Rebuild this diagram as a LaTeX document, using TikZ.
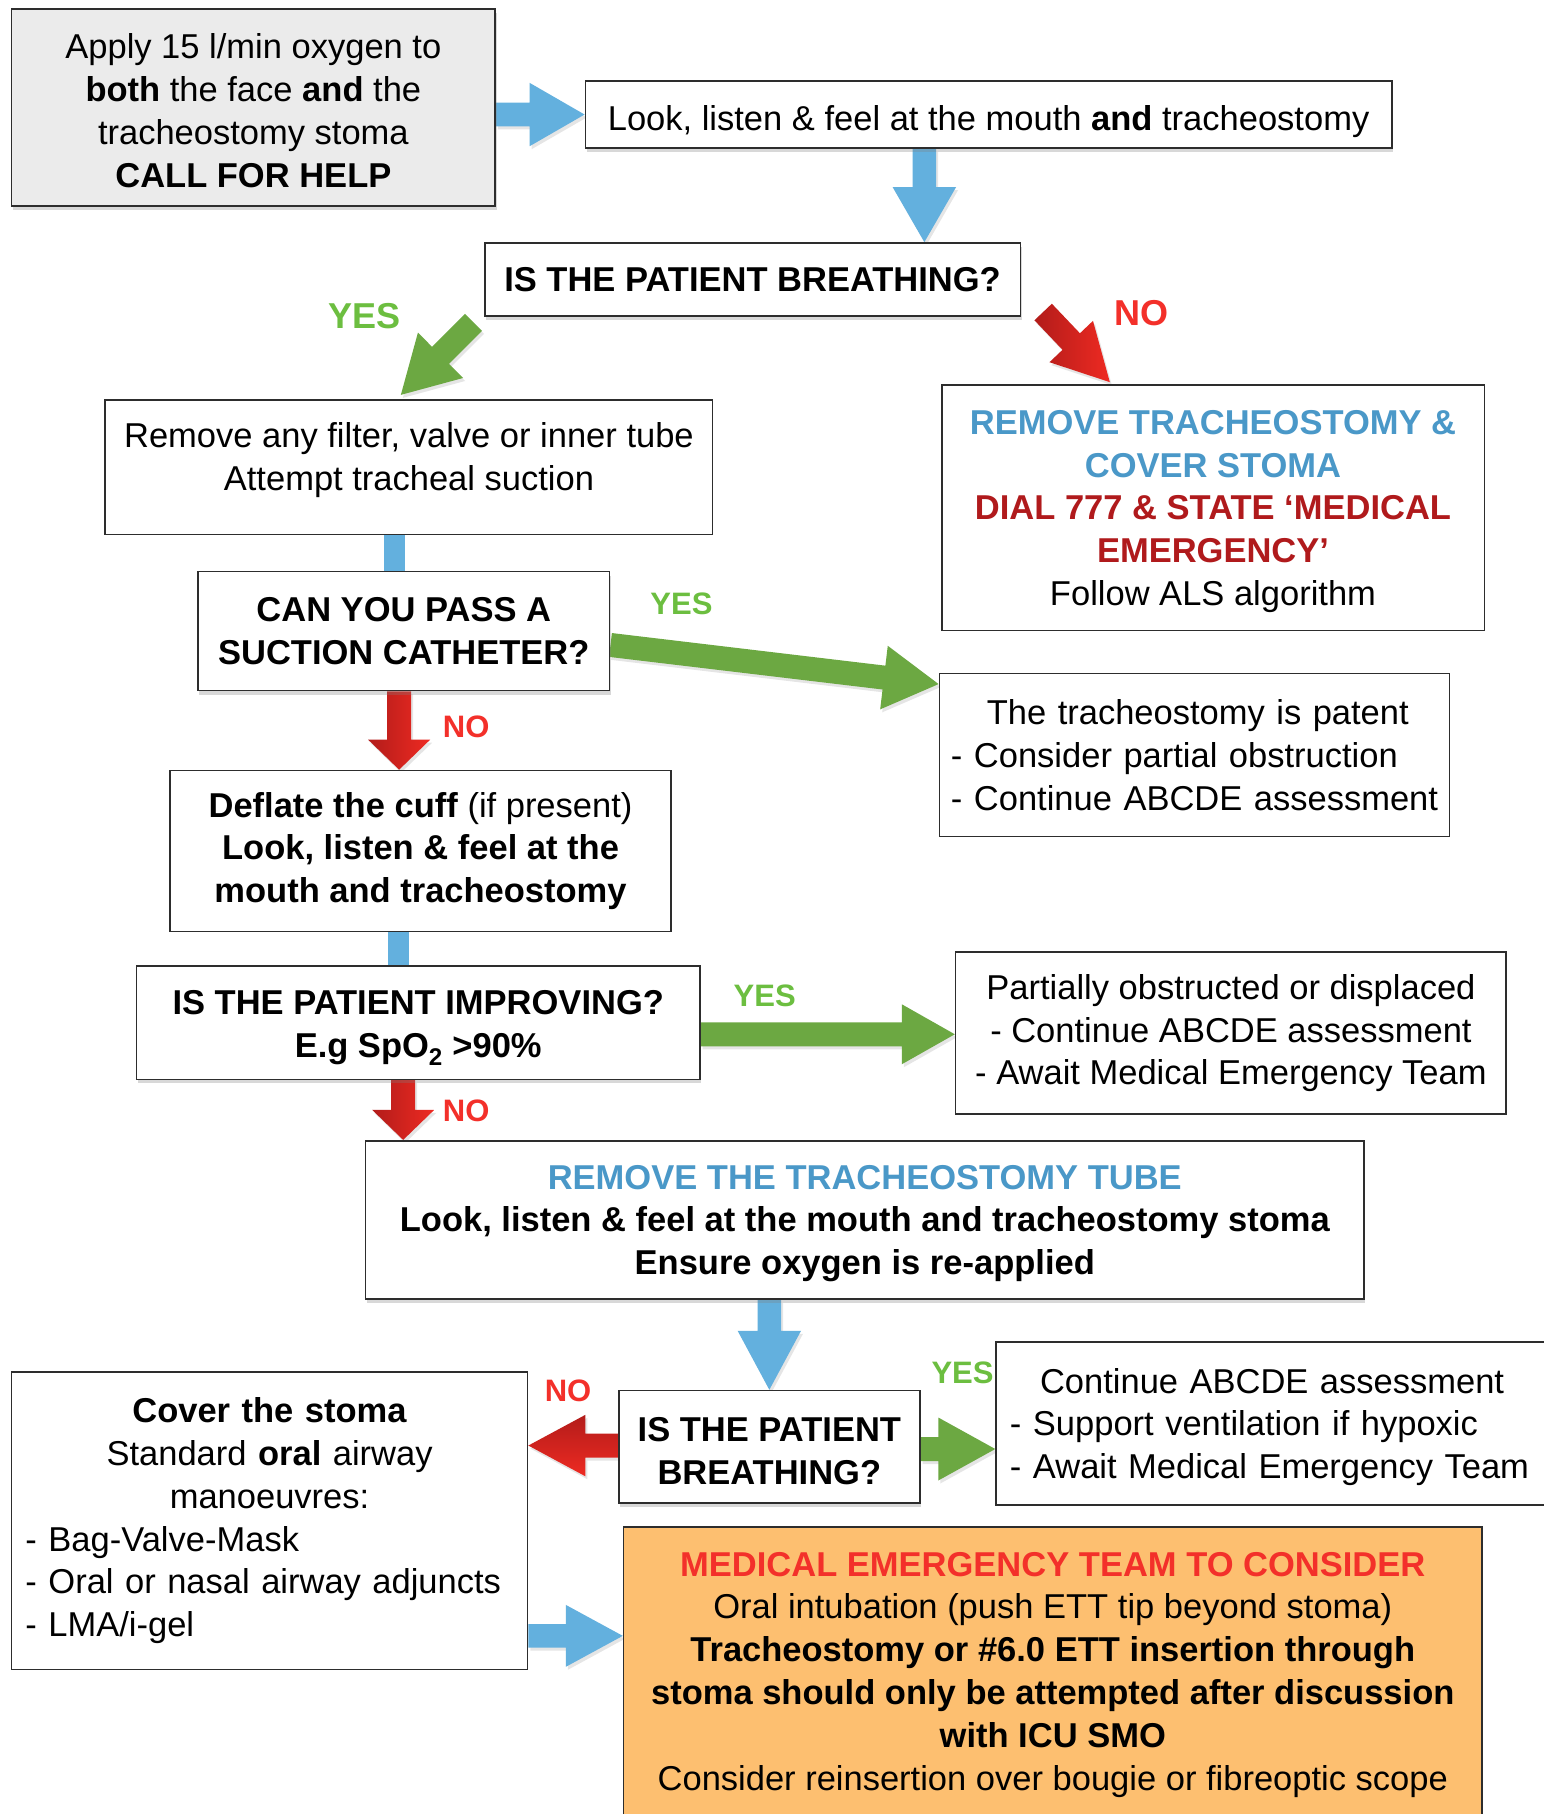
\documentclass[tikz,border=0pt]{standalone}
\usepackage{fontspec}
\setmainfont{Liberation Sans}
\usetikzlibrary{calc,shadows,backgrounds}
\setlength\parindent{0pt}
\definecolor{arrblue}{RGB}{99,176,222}
\definecolor{arrgreen}{RGB}{108,168,66}
\definecolor{arrred}{RGB}{218,38,30}
\definecolor{arrdark}{RGB}{178,28,26}
\definecolor{arrbright}{RGB}{238,42,34}
\definecolor{txtgreen}{RGB}{108,190,64}
\definecolor{txtred}{RGB}{243,48,42}
\definecolor{txtdred}{RGB}{176,26,28}
\definecolor{txtblue}{RGB}{74,152,200}
\definecolor{boxgray}{RGB}{235,235,235}
\definecolor{boxorange}{RGB}{253,191,112}
\definecolor{edgecol}{RGB}{45,45,45}
\newcommand\vsh[2]{\raisebox{#1}[\height][\depth]{#2}}
% block arrow: style, from, to, half shaft, half head, head length
\newcommand\barrow[6]{%
  \coordinate (ba-t) at (#2);
  \coordinate (ba-e) at (#3);
  \coordinate (ba-h) at ($(ba-e)!#6!(ba-t)$);
  \path[#1] ($(ba-t)!#4!90:(ba-e)$) -- ($(ba-h)!#4!90:(ba-e)$) -- ($(ba-h)!#5!90:(ba-e)$)
    -- (ba-e) -- ($(ba-h)!#5!-90:(ba-e)$) -- ($(ba-h)!#4!-90:(ba-e)$) -- ($(ba-t)!#4!-90:(ba-e)$) -- cycle;
}
\begin{document}
\begin{tikzpicture}[x=1.1567pt, y=-1.1567pt,
  box/.style={draw=edgecol, line width=1.6pt, fill=white, align=center, inner sep=0pt,
    font=\fontsize{34.5}{42.8}\selectfont},
  bbox/.style={box, font=\bfseries\fontsize{34.5}{42.8}\selectfont},
  sz/.style 2 args={minimum width=#1*1.1567pt, minimum height=#2*1.1567pt},
  shad/.style={drop shadow={shadow xshift=1.5pt, shadow yshift=-4pt, opacity=0.3}},
  ashad/.style={drop shadow={shadow xshift=2pt, shadow yshift=-3pt, opacity=0.2}},
  redv/.style={left color=arrdark, right color=arrbright, ashad},
  redh/.style={top color=arrdark, bottom color=arrbright, ashad},
  lab/.style={font=\bfseries\fontsize{31}{36}\selectfont, inner sep=0pt},
  labbig/.style={font=\bfseries\fontsize{36}{40}\selectfont, inner sep=0pt},
  conn/.style={draw=arrblue, line width=21pt}
]
\useasboundingbox (0,0) rectangle (1334,1568);

% boxes
\node[box, sz={418}{170}, fill=boxgray, shad] (b1) at (219,93)
  {\vsh{-3pt}{Apply 15 l/min oxygen to}\\\vsh{-3pt}{\textbf{both} the face \textbf{and} the}\\\vsh{-3pt}{tracheostomy stoma}\\\vsh{-3pt}{\textbf{CALL FOR HELP}}};
\node[box, sz={697}{58}, shad] (b2) at (854.5,99)
  {\vsh{-7pt}{Look, listen \& feel at the mouth \textbf{and} tracheostomy}};
\node[bbox, sz={463}{63}, shad] (b3) at (650.5,241.5) {IS THE PATIENT BREATHING?};
\node[box, sz={525}{116}] (b4) at (353.5,404)
  {\vsh{7pt}{Remove any filter, valve or inner tube}\\\vsh{7pt}{Attempt tracheal suction}};
\node[bbox, sz={356}{103}, shad] (b5) at (349,545.5) {CAN YOU PASS A\\SUCTION CATHETER?};
\node[box, sz={433}{139}] (b6) at (363.5,735.5)
  {\textbf{Deflate the cuff} (if present)\\\textbf{Look, listen \& feel at the}\\\textbf{mouth and tracheostomy}};
\node[bbox, sz={487}{98}, shad] (b7) at (361.5,884)
  {\vsh{-5.5pt}{IS THE PATIENT IMPROVING?}\\\vsh{-5.5pt}{E.g SpO\textsubscript{2} >90\%}};
\node[bbox, sz={863}{137}, shad] (b9) at (747.5,1054.5)
  {\vsh{-3.5pt}{\textcolor{txtblue}{REMOVE THE TRACHEOSTOMY TUBE}}\\\vsh{-3.5pt}{Look, listen \& feel at the mouth and tracheostomy stoma}\\\vsh{-3.5pt}{Ensure oxygen is re-applied}};
\node[bbox, sz={260}{97}, shad] (b10) at (665,1250.5) {\vsh{-4.5pt}{IS THE PATIENT}\\\vsh{-4.5pt}{BREATHING?}};
\node[box, sz={469}{212}] (r1) at (1048.5,439)
  {\vsh{-3.5pt}{\textcolor{txtblue}{\textbf{REMOVE TRACHEOSTOMY \&}}}\\\vsh{-3.5pt}{\textcolor{txtblue}{\textbf{COVER STOMA}}}\\\vsh{-3.5pt}{\textcolor{txtdred}{\textbf{DIAL 777 \& STATE ‘MEDICAL}}}\\\vsh{-3.5pt}{\textcolor{txtdred}{\textbf{EMERGENCY’}}}\\\vsh{-3.5pt}{Follow ALS algorithm}};
\node[box, align=left, text width=486.97pt, inner xsep=11.57pt, minimum height=163.1pt] (r2) at (1032.5,652.5)
  {\mbox{\hspace*{35.86pt}The tracheostomy is patent}\\\mbox{- Consider partial obstruction}\\\mbox{- Continue ABCDE assessment}};
\node[box, sz={476}{140}] (r3) at (1064,893)
  {Partially obstructed or displaced\\- Continue ABCDE assessment\\- Await Medical Emergency Team};
\node[box, align=left, text width=532.08pt, inner xsep=13.88pt, minimum height=163.1pt] (r4) at (1103,1230.5)
  {\vsh{-3.5pt}{\hspace*{30.07pt}Continue ABCDE assessment}\\\vsh{-3.5pt}{- Support ventilation if hypoxic}\\\vsh{-3.5pt}{- Await Medical Emergency Team}};
\node[box, align=left, text width=488.13pt, inner xsep=13.88pt, minimum height=297.3pt] (b11) at (233,1314.5)
  {\centering\textbf{Cover the stoma}\\Standard \textbf{oral} airway\\manoeuvres:\par\raggedright \mbox{- Bag-Valve-Mask}\\\mbox{- Oral or nasal airway adjuncts}\\\mbox{- LMA/i-gel}};
\node[box, fill=boxorange, sz={742}{255}] (b13) at (910,1447.5)
  {\textcolor{txtred}{\textbf{MEDICAL EMERGENCY TEAM TO CONSIDER}}\\Oral intubation (push ETT tip beyond stoma)\\\textbf{Tracheostomy or \#6.0 ETT insertion through}\\\textbf{stoma should only be attempted after discussion}\\\textbf{with ICU SMO}\\Consider reinsertion over bougie or fibreoptic scope};

% labels
\node[labbig, text=txtgreen] (yes1) at (315,273) {YES};
\node[labbig, text=txtred] (no1) at (987,271) {NO};
\node[lab, text=txtgreen] (yes2) at (589,522) {YES};
\node[lab, text=txtred] (no2) at (403,628) {NO};
\node[lab, text=txtgreen] (yes3) at (661,861) {YES};
\node[lab, text=txtred] (no3) at (403,960) {NO};
\node[lab, text=txtred] (no4) at (491,1202) {NO};
\node[lab, text=txtgreen] (yes4) at (832,1187) {YES};

\begin{pgfonlayer}{background}
\fill[white] (0,0) rectangle (1334,1568);
% plain connectors
\coordinate (c1) at ([shift={(-12.8,0)}]b4.south);
\draw[conn] (c1) -- (c1 |- b5.north);
\coordinate (c2) at ([shift={(-19,0)}]b6.south);
\draw[conn] (c2) -- (c2 |- b7.north);
% block arrows
\barrow{fill=arrblue, ashad}{b1.east |- b2.west}{b2.west}{11.8pt}{31.7pt}{55pt}
\barrow{fill=arrblue, ashad}{[shift={(-55.5,0)}]b2.south}{ba-t |- b3.north}{11.8pt}{31.7pt}{55pt}
\barrow{fill=arrgreen, ashad}{[shift={(-9,5)}]b3.south west}{[shift={(-7,-4)}]b4.north}{12pt}{32pt}{56pt}
\barrow{redv}{[shift={(19,-4)}]b3.south east}{[shift={(146,-2)}]r1.north west}{12pt}{30pt}{56pt}
\barrow{fill=arrgreen, ashad}{[shift={(0,12)}]b5.east}{[shift={(0,10)}]r2.north west}{12pt}{32pt}{55pt}
\barrow{redv}{[shift={(-4,0)}]b5.south}{ba-t |- b6.north}{12pt}{31pt}{30pt}
\barrow{fill=arrgreen, ashad}{[shift={(0,10)}]b7.east}{ba-t -| r3.west}{12pt}{30pt}{53pt}
\barrow{redv}{[shift={(-13,0)}]b7.south}{ba-t |- b9.north}{12pt}{31pt}{30pt}
\barrow{fill=arrblue, ashad}{[shift={(-82.5,0)}]b9.south}{ba-t |- b10.north}{11.8pt}{31.7pt}{59pt}
\barrow{redh}{[shift={(0,-1)}]b10.west}{ba-t -| b11.east}{12pt}{30.7pt}{57pt}
\barrow{fill=arrgreen, ashad}{[shift={(0,2)}]b10.east}{ba-t -| r4.west}{12pt}{31.5pt}{57pt}
\barrow{fill=arrblue, ashad}{[shift={(0,99.5)}]b11.east}{ba-t -| b13.west}{11.8pt}{31pt}{57pt}
\end{pgfonlayer}
\end{tikzpicture}
\end{document}
